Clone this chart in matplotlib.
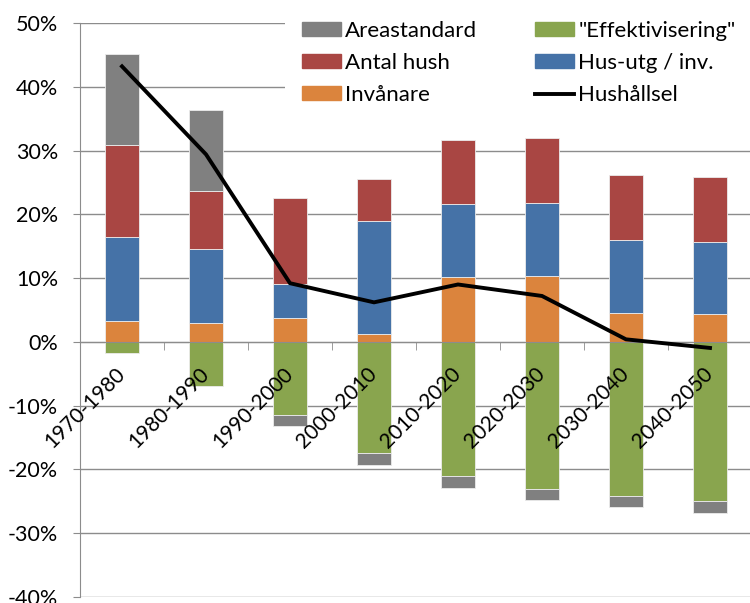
import numpy as np
import matplotlib
matplotlib.use("Agg")
import matplotlib.pyplot as plt
from matplotlib.patches import Rectangle
from matplotlib.lines import Line2D
from matplotlib.transforms import ScaledTranslation

plt.rcParams['font.family'] = ['Lato', 'DejaVu Sans']

periods = ['1970-1980', '1980-1990', '1990-2000', '2000-2010',
           '2010-2020', '2020-2030', '2030-2040', '2040-2050']
invanare = [3.3, 3.0, 3.7, 1.3, 10.1, 10.3, 4.6, 4.3]
hus_utg = [13.2, 11.5, 5.3, 17.6, 11.5, 11.5, 11.4, 11.4]
antal_hush = [14.3, 9.2, 13.5, 6.7, 10.1, 10.1, 10.2, 10.2]
areastandard = [14.3, 12.6, -1.7, -1.85, -1.9, -1.8, -1.8, -1.85]
effektivisering = [-1.7, -6.9, -11.5, -17.45, -21.0, -23.0, -24.1, -24.95]
hushallsel = [43.2, 29.4, 9.2, 6.2, 9.0, 7.2, 0.4, -0.95]
yticks = [-40, -30, -20, -10, 0, 10, 20, 30, 40, 50]

c_gray = '#808080'
c_red = '#A94643'
c_blue = '#4572A7'
c_green = '#89A54E'
c_orange = '#DB843D'
grid_c = '#8c8c8c'

W, H = 750, 603
fig = plt.figure(figsize=(W / 100, H / 100), dpi=100)
ax = fig.add_axes([80 / W, 1 - 597 / H, 672 / W, 574 / H])

x = np.arange(len(periods))
bw = 0.4
ekw = dict(width=bw, edgecolor='#ececec', linewidth=0.6, zorder=2)

inv = np.array(invanare)
hus = np.array(hus_utg)
ant = np.array(antal_hush)
are = np.array(areastandard)
eff = np.array(effektivisering)

# positive contributions stack upward, savings stack downward
ax.bar(x, inv, color=c_orange, **ekw)
ax.bar(x, hus, bottom=inv, color=c_blue, **ekw)
ax.bar(x, ant, bottom=inv + hus, color=c_red, **ekw)
ax.bar(x, eff, color=c_green, **ekw)
are_bottom = np.where(are >= 0, inv + hus + ant, eff)
ax.bar(x, are, bottom=are_bottom, color=c_gray, **ekw)
ax.plot(x, hushallsel, color='black', lw=2.8, zorder=3,
        solid_joinstyle='miter')

ax.set_xlim(-0.5, len(periods) - 0.5)
ax.set_ylim(-40, 50)
ax.set_yticks(yticks)
ax.set_yticklabels([f'{v}%' for v in yticks], fontsize=15.5)
ax.yaxis.grid(True, color=grid_c, lw=1.0)
ax.set_axisbelow(True)

for s in ['top', 'right']:
    ax.spines[s].set_visible(False)
ax.spines['left'].set_color(grid_c)
ax.spines['bottom'].set_color(grid_c)
ax.spines['bottom'].set_position(('data', 0))
ax.tick_params(axis='y', length=5, color=grid_c, pad=10.8)

# category labels drawn as texts so they sit above the bars
ax.set_xticks(x)
ax.set_xticklabels([])
ax.set_xticks(np.arange(0.5, len(periods) - 0.5, 1.0), minor=True)
ax.tick_params(axis='x', which='major', length=0)
ax.tick_params(axis='x', which='minor', length=5.5, color=grid_c)
off = ScaledTranslation(0.07, -0.22, fig.dpi_scale_trans)
for xi, name in zip(x, periods):
    ax.text(xi, 0, name, rotation=45, ha='right', va='top', fontsize=15,
            transform=ax.transData + off, zorder=5)

# white backing behind the legend
fig.add_artist(Rectangle((285 / W, 1 - 112 / H), (W - 285) / W, 112 / H,
                         transform=fig.transFigure, facecolor='white',
                         edgecolor='none', zorder=1.5))

h1 = [Rectangle((0, 0), 1, 1, color=c) for c in (c_gray, c_red, c_orange)]
h2 = [Rectangle((0, 0), 1, 1, color=c_green), Rectangle((0, 0), 1, 1, color=c_blue),
      Line2D([0], [0], color='black', lw=2.8)]
lkw = dict(frameon=False, fontsize=16, loc='upper left', borderpad=0, borderaxespad=0,
           handlelength=1.75, handleheight=0.6, handletextpad=0.2, labelspacing=0.54)
leg1 = fig.legend(h1, ['Areastandard', 'Antal hush', 'Invånare'],
                  bbox_to_anchor=(302 / W, 1 - 21 / H), **lkw)
leg2 = fig.legend(h2, ['"Effektivisering"', 'Hus-utg / inv.', 'Hushållsel'],
                  bbox_to_anchor=(535 / W, 1 - 21 / H), **lkw)
for lg in (leg1, leg2):
    lg.set_zorder(5)

fig.savefig('out.png', dpi=100)
